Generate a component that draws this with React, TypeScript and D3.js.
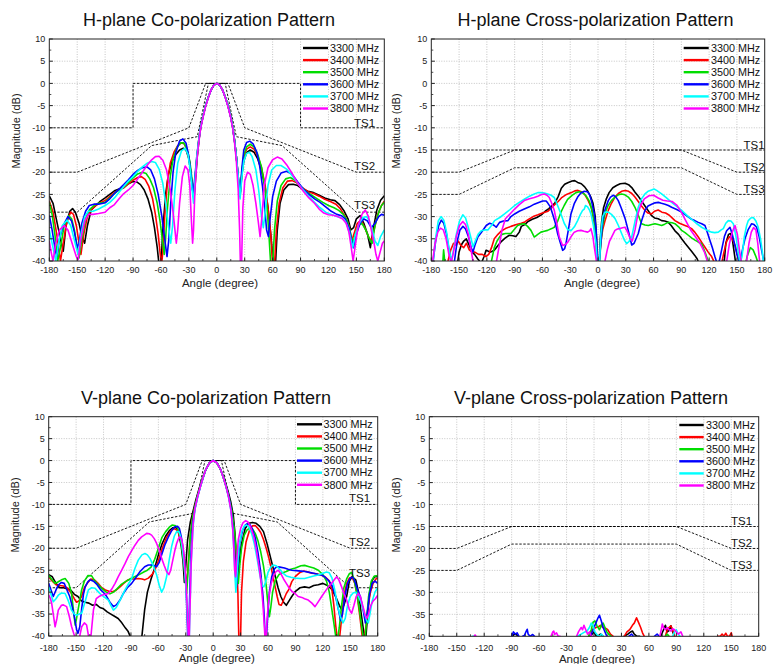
import React from 'react';
import * as d3 from 'd3';

type Pt = [number, number];

const FREQS = ['3300 MHz', '3400 MHz', '3500 MHz', '3600 MHz', '3700 MHz', '3800 MHz'];
const COLORS = ['#000000', '#ff0000', '#00dd00', '#0000ff', '#00ffff', '#ff00ff'];
const X_TICKS = d3.range(-180, 181, 30);
const Y_TICKS = d3.range(-40, 11, 5);

// ---- mask envelopes ----
const CO_TS1: Pt[] = [[-180, -10], [-90, -10], [-90, 0], [90, 0], [90, -10], [180, -10]];
const CO_TS2: Pt[] = [[-180, -20], [-150, -20], [-30, -10], [-12, 0], [12, 0], [30, -10], [150, -20], [180, -20]];
const CO_TS3: Pt[] = [[-180, -29], [-150, -29], [-70, -14], [-21, -12], [-9, 0], [9, 0], [21, -12], [70, -14], [150, -29], [180, -29]];
const X_TS1: Pt[] = [[-180, -15], [180, -15]];
const X_TS2: Pt[] = [[-180, -20], [-150, -20], [-90, -15], [90, -15], [150, -20], [180, -20]];
const X_TS3: Pt[] = [[-180, -25], [-150, -25], [-90, -19], [90, -19], [150, -25], [180, -25]];

// ---- H-plane co-pol ----
const hco3300: Pt[] = [[-180,-25.3],[-176,-27],[-172,-31],[-168,-35],[-165,-37.8],[-162,-32],[-158,-28.8],[-155,-28.2],[-152,-29],[-148,-31.5],[-145,-34.5],[-142,-36],[-139,-32],[-135,-28.5],[-130,-27.5],[-125,-26.5],[-120,-25.8],[-115,-25],[-110,-24.2],[-105,-23.8],[-100,-23.5],[-95,-22.6],[-90,-22.1],[-86,-22.2],[-82,-22.8],[-78,-24],[-74,-26],[-70,-29],[-67,-32.5],[-64,-37],[-62,-41],[-60,-41],[-58,-33],[-55,-25],[-52,-20.5],[-48,-17.5],[-44,-16],[-40,-15],[-36,-14.6],[-33,-15],[-30,-17],[-28,-20],[-26,-24],[-24.5,-26],[-23,-22],[-21,-16.5],[-19,-12.5],[-17,-9.5],[-15,-7.5],[-12,-5],[-9,-3],[-6,-1.4],[-3,-0.35],[0,0],[3,-0.35],[6,-1.4],[9,-3],[12,-5],[15,-7.5],[17,-9.7],[19,-12.7],[21,-16.5],[23,-21.5],[25,-25.5],[27,-20.5],[29,-17.5],[32,-15.6],[36,-15],[40,-15.5],[44,-17],[48,-19.5],[52,-23.5],[55,-28],[58,-34],[61,-41],[63,-41],[65,-33],[68,-27],[72,-24],[77,-22.8],[82,-22.7],[87,-23],[92,-23.8],[98,-24.3],[104,-24.6],[110,-25.2],[116,-25.8],[122,-26.2],[127,-26.4],[132,-27.3],[137,-28.8],[141,-30.5],[144,-33],[147,-32.5],[150,-30.5],[154,-29.8],[158,-31.5],[162,-34],[165,-37],[168,-33],[172,-28.5],[176,-26.3],[180,-25.3]];
const hco3400: Pt[] = [[-180,-26.5],[-176,-29],[-172,-34],[-168,-40],[-165,-36],[-161,-31],[-157,-29],[-154,-29.5],[-151,-32],[-148,-36],[-146,-38.5],[-143,-34],[-139,-30],[-135,-28.5],[-130,-27.5],[-125,-26.8],[-120,-26.4],[-115,-25.5],[-110,-24.6],[-105,-24],[-100,-23.5],[-95,-22.6],[-90,-21.8],[-85,-21.2],[-81,-21],[-77,-21.6],[-73,-23.2],[-69,-26],[-66,-29.5],[-63,-34],[-61,-38],[-59.5,-41],[-58,-38],[-56,-30],[-53,-22],[-50,-18],[-46,-15.5],[-42,-14],[-38,-13.4],[-35,-13.6],[-32,-15],[-29,-18],[-27,-22],[-25,-25.5],[-23.5,-22],[-21.5,-17],[-19.5,-13],[-17.5,-10],[-15,-7.6],[-12,-5],[-9,-3],[-6,-1.4],[-3,-0.35],[0,0],[3,-0.35],[6,-1.4],[9,-3],[12,-5],[15,-7.6],[17,-9.8],[19,-12.8],[21,-16.5],[23,-21],[25,-25],[27,-20],[29,-16.5],[32,-14.8],[36,-14.3],[40,-14.8],[44,-16.3],[48,-19],[52,-23],[55,-28],[58,-34],[60,-41],[62,-41],[64,-33],[67,-27],[71,-23.5],[76,-22],[81,-21.9],[86,-22.4],[92,-23.5],[98,-24.4],[104,-24.8],[110,-25.4],[116,-26.1],[122,-26.6],[128,-27.2],[133,-28.3],[138,-30],[142,-32],[145,-35.5],[148,-33.5],[151,-31.5],[155,-30.8],[159,-32.5],[163,-34.5],[166,-35.5],[169,-33],[173,-29.5],[177,-27.5],[180,-26.5]];
const hco3500: Pt[] = [[-180,-26.8],[-177,-29.5],[-174,-34],[-171,-40],[-168,-37],[-164,-32],[-159,-29.8],[-156,-30.5],[-153,-33],[-150,-37],[-148,-39.3],[-145,-35],[-141,-30.5],[-137,-28.5],[-132,-27.5],[-127,-27],[-120,-26.8],[-115,-25.8],[-110,-24.8],[-105,-24],[-100,-23.3],[-95,-22.3],[-90,-21.3],[-85,-20.4],[-80,-20],[-76,-20.3],[-72,-21.5],[-68,-23.5],[-64,-27],[-61,-31],[-58,-36],[-56.5,-38.5],[-55,-35],[-53,-28],[-50,-21],[-47,-17],[-43,-14.5],[-39,-13.4],[-35.5,-13.4],[-32,-14.8],[-29,-17.5],[-27,-21],[-25,-25],[-23.5,-22],[-21.5,-17],[-19.5,-13],[-17.5,-10],[-15,-7.6],[-12,-5],[-9,-3],[-6,-1.4],[-3,-0.35],[0,0],[3,-0.35],[6,-1.4],[9,-3],[12,-5],[15,-7.6],[17,-9.8],[19,-12.8],[21,-16.5],[23,-21],[25,-25],[27,-20],[29,-16.2],[32,-14.3],[36,-13.7],[40,-14.3],[44,-16],[48,-18.8],[51,-22.5],[54,-28],[56,-34],[58,-41],[60,-41],[62,-33],[65,-26.5],[69,-23],[74,-21.5],[79,-21.2],[84,-21.8],[90,-23.2],[96,-24.4],[102,-25.2],[108,-26],[114,-26.8],[120,-27.5],[126,-28],[131,-28.6],[136,-29.5],[140,-30.8],[143,-33],[146,-36],[149,-34],[152,-32],[156,-31.5],[160,-33],[164,-35],[167,-36],[170,-32],[174,-29],[177,-27.5],[180,-26.8]];
const hco3600: Pt[] = [[-180,-29.7],[-177,-33],[-174,-37],[-172,-39],[-169,-35],[-165,-32],[-160,-30],[-156,-31],[-153,-33.5],[-150,-37],[-148,-36],[-145,-31.5],[-141,-28.8],[-137,-27.5],[-132,-27.2],[-127,-27.2],[-120,-26.9],[-115,-26],[-110,-24.8],[-105,-23.8],[-100,-22.8],[-95,-21.7],[-90,-20.5],[-85,-19.6],[-80,-19],[-75,-18.8],[-71,-19.5],[-67,-21.5],[-63,-25],[-59,-30],[-56,-35],[-53.5,-39],[-51.5,-35],[-49.5,-27],[-47,-20],[-44,-15.5],[-40,-13],[-36.5,-12.5],[-33,-13.5],[-30,-16.5],[-27.5,-21],[-25.5,-25],[-23.5,-21],[-21.5,-16.5],[-19.5,-13],[-17.5,-10],[-15,-7.6],[-12,-5],[-9,-3],[-6,-1.4],[-3,-0.35],[0,0],[3,-0.35],[6,-1.4],[9,-3],[12,-5],[15,-7.6],[17,-9.8],[19,-12.8],[21,-16.5],[23,-21],[25,-25],[27,-19],[29,-15],[32,-13.3],[35.5,-13],[39,-13.6],[43,-15.5],[46,-18.5],[49,-23],[51.5,-28],[53.5,-33],[55.5,-34.5],[57,-31],[60,-25.5],[64,-22],[69,-20.2],[75,-19.8],[81,-20.5],[87,-22.2],[93,-23.8],[99,-25],[105,-26],[111,-26.8],[117,-27.8],[123,-28.8],[129,-29.5],[134,-29.8],[138,-30.5],[142,-32.5],[145,-35.5],[147,-37],[150,-34],[154,-31.5],[158,-30.5],[162,-31],[166,-32.5],[170,-31.5],[174,-30],[177,-29.5],[180,-29.7]];
const hco3700: Pt[] = [[-180,-33],[-178,-35],[-175,-38],[-173,-40],[-170,-36],[-166,-32],[-161,-30.8],[-157,-32],[-154,-34.5],[-151,-37],[-149,-38.5],[-146,-34],[-142,-30],[-138,-28.8],[-133,-28.8],[-127,-28.3],[-120,-27.5],[-115,-26.8],[-110,-25.8],[-105,-24.5],[-100,-23.2],[-95,-22],[-90,-21],[-85,-19.8],[-80,-18.8],[-75,-18],[-70,-17.6],[-66,-17.8],[-62,-19.3],[-58,-22.5],[-55,-27],[-52,-32],[-49.5,-36],[-47.5,-32],[-45,-24],[-42,-18],[-38,-15.2],[-34,-14.6],[-31,-16],[-28.5,-19.5],[-26.5,-24],[-25,-27],[-23.5,-22],[-21.5,-16.5],[-19.5,-13],[-17.5,-10],[-15,-7.6],[-12,-5],[-9,-3],[-6,-1.4],[-3,-0.35],[0,0],[3,-0.35],[6,-1.4],[9,-3],[12,-5],[15,-7.6],[17,-9.8],[19,-12.8],[21,-16.5],[23,-21],[25,-26],[27,-21],[29,-17.5],[32,-15.8],[35,-15.5],[38,-16.5],[42,-19.5],[45,-24],[48,-30],[50,-32.5],[52,-29],[55,-23],[59,-19.5],[64,-18.5],[69,-18.5],[75,-19.3],[81,-20.8],[87,-22.5],[93,-24],[99,-25.5],[105,-26.8],[111,-28],[117,-29],[123,-29.5],[129,-30],[134,-30.3],[138,-31],[141,-32.5],[144,-35],[146,-37],[149,-34],[153,-31.5],[157,-30.2],[161,-30],[164,-31],[167,-33],[170,-35.5],[173,-36.5],[176,-34.5],[180,-33]];
const hco3800: Pt[] = [[-180,-35.5],[-178,-38],[-176,-40],[-173,-36],[-169,-33],[-164,-32],[-160,-33],[-157,-35],[-154,-37],[-151,-39],[-149,-39.7],[-146,-35],[-142,-31],[-138,-29.5],[-133,-29.5],[-127,-29.3],[-120,-29],[-115,-28],[-110,-27.3],[-105,-26],[-100,-24.8],[-95,-24],[-90,-23],[-85,-21.5],[-80,-20],[-75,-18.5],[-70,-17.2],[-66,-16.5],[-62,-16.4],[-58,-17.3],[-54,-19.5],[-50,-24],[-47,-29],[-45,-33],[-43.5,-36],[-42,-33],[-40,-27],[-37,-21],[-34,-18.6],[-31,-19.5],[-29,-23],[-27.5,-30],[-26,-36],[-25,-33],[-23.5,-24],[-21.5,-17.5],[-19.5,-13.5],[-17.5,-10.3],[-15,-7.8],[-12,-5.2],[-9,-3.1],[-6,-1.4],[-3,-0.35],[0,0],[3,-0.35],[6,-1.4],[9,-3.1],[12,-5.2],[15,-7.8],[17,-10],[19,-13.2],[21,-17.5],[23,-24],[24.5,-33],[25.5,-42],[26.5,-42],[28,-28],[30,-22],[33,-20],[36,-20.5],[39,-23],[42,-27],[44.5,-31],[46.5,-34.5],[48.5,-30],[51,-23],[55,-19],[60,-17.2],[65,-16.6],[70,-17],[75,-18.3],[81,-20.3],[87,-22.5],[93,-24.3],[99,-25.8],[105,-27],[110,-28.3],[115,-29.2],[120,-29.6],[125,-29.7],[130,-30],[135,-30.5],[139,-31.5],[142,-33.5],[144.5,-37],[146.5,-40],[148.5,-37],[152,-32],[156,-29.5],[159.5,-28.5],[163,-30],[166,-33],[169,-36],[171,-38.5],[173,-40],[175.5,-38],[178,-36],[180,-35.5]];

// ---- H-plane cross-pol ----
const hx3300: Pt[] = [[-180,-42],[-160,-42],[-152,-41],[-150,-38],[-147.6,-36.4],[-145,-35.5],[-142.2,-35],[-139,-36.5],[-136,-38],[-133.3,-38.5],[-130,-39.5],[-126,-40.5],[-123,-39],[-120.9,-37.6],[-116,-38],[-112,-37.6],[-108,-36.5],[-104.8,-35.7],[-100,-34.8],[-95.8,-34.2],[-92,-34.3],[-88.6,-34.5],[-85,-33.5],[-82.8,-32.2],[-79,-31.8],[-75.6,-31.1],[-71,-30.6],[-66,-30.2],[-61.2,-29.6],[-57,-28.8],[-53,-28.2],[-50,-27.6],[-46.8,-27],[-43,-25.5],[-39.6,-23.6],[-36,-22.7],[-32,-22.3],[-28,-22],[-25.2,-21.9],[-22,-22.3],[-18,-22.6],[-14.4,-23.3],[-11,-24.3],[-8,-25.5],[-5.4,-27],[-3,-30],[-1.5,-35],[-0.5,-41],[1,-41],[2.5,-35],[4,-31],[6,-28],[9,-26],[12,-24.6],[16,-23.5],[20,-23],[24,-22.6],[29.2,-22.5],[33,-22.8],[37,-23.6],[40,-24.5],[43.5,-25.4],[47,-26.5],[50.7,-27.6],[54,-28.6],[57.9,-29.8],[61,-30.3],[65,-30.5],[68.7,-30.9],[72,-31],[75.9,-31.3],[79,-32],[83.1,-33.2],[87,-34],[90.3,-35],[94,-36],[97.5,-36.9],[101,-37.8],[104.7,-38.8],[107,-39.5],[110,-41],[130,-42],[136,-41],[138,-36],[141,-34],[143,-33.8],[145,-35],[147,-38],[149,-41],[180,-42]];
const hx3400: Pt[] = [[-180,-42],[-165,-42],[-162,-40],[-159,-37.5],[-156,-36],[-153,-36.5],[-151,-35.5],[-148,-36.5],[-145,-37],[-142,-36],[-139,-37.5],[-136,-38],[-133,-38],[-129,-38.5],[-125,-38.5],[-121,-39],[-118,-38.5],[-115,-37],[-112,-35],[-108,-34],[-104.8,-33.3],[-100,-32.7],[-94,-32.2],[-88,-31.8],[-82.8,-31.5],[-79,-31.2],[-75.6,-30.7],[-70,-30],[-64.8,-29.6],[-60,-29.2],[-54,-28.8],[-50,-28],[-46.8,-27.3],[-43,-26.6],[-39.6,-25.8],[-34,-25],[-28.8,-24.6],[-25,-24.2],[-21.6,-24.1],[-18,-24.4],[-14.4,-25],[-11,-26.2],[-7.2,-28],[-4.5,-31],[-2.5,-35],[-1,-41],[1,-41],[3,-36],[5,-33],[7.5,-31],[11.1,-28.6],[14.5,-27],[18.3,-25.6],[22,-24.8],[25.5,-24.3],[29.2,-24.1],[33,-24.3],[36.5,-24.8],[39.9,-25.6],[43.5,-26.6],[47,-27.6],[50.7,-28.6],[54,-29.2],[57.9,-29.4],[61,-28.8],[65,-28.5],[69,-29],[73,-29.2],[77,-29.7],[80,-30.3],[83.1,-30.9],[88,-31.5],[93.9,-32],[97.5,-32.3],[101,-32.7],[104.5,-33.5],[108.3,-34.6],[112,-35.8],[115.5,-36.9],[119,-38],[122.7,-39],[126,-40.5],[133,-41],[136,-38],[139,-35.5],[142,-34.5],[145,-35],[148,-36.5],[151,-39],[154,-41],[180,-42]];
const hx3500: Pt[] = [[-180,-42],[-168.5,-42],[-167.5,-40],[-166.7,-37.5],[-165.5,-40],[-164.5,-42],[-118,-42],[-115,-40],[-112,-37],[-109,-35.5],[-106,-34.5],[-103.7,-34],[-100,-33.8],[-94,-33.8],[-90,-32.8],[-86.8,-32],[-83,-31.7],[-79.6,-31.6],[-76,-32.2],[-72.4,-33.1],[-68.8,-34.6],[-65,-34],[-61.6,-33.5],[-58,-33.3],[-54.4,-33.1],[-50,-32.7],[-47.2,-32.4],[-43.5,-31],[-40,-29],[-36.5,-27.5],[-32.8,-26.1],[-28,-25.2],[-23.8,-24.6],[-20,-24.4],[-16.6,-24.6],[-13,-25.3],[-9.4,-26.5],[-6.5,-28.5],[-4,-31],[-2,-35],[-0.5,-41],[1.5,-41],[3,-36],[5,-32],[8,-29],[11,-27.5],[14.5,-26.4],[18.3,-25.6],[22,-25.1],[25.5,-24.9],[29,-25.1],[32.7,-25.6],[36.5,-26.6],[39.9,-27.9],[43.5,-29.7],[47.1,-31.6],[50.7,-31.9],[54.3,-32],[58,-31.8],[61.5,-31.6],[65,-31.8],[68.7,-32],[72,-31.7],[75.9,-31.3],[80,-31.4],[83.1,-31.6],[87,-32.3],[90.3,-33.1],[94,-33.6],[97.5,-34.2],[101,-34.8],[104.7,-35.3],[108,-35.7],[111.9,-36.1],[115.5,-38],[119,-40],[121,-42],[158,-42],[161,-39],[164.5,-37],[167.5,-37.5],[170.5,-39],[173,-40.5],[175,-42],[180,-42]];
const hx3600: Pt[] = [[-180,-42],[-178,-40],[-175,-35],[-172,-32],[-169.2,-30.8],[-166.5,-31.5],[-163.5,-34],[-160.5,-38],[-157,-41],[-155,-40],[-152,-35.5],[-149,-33],[-145.8,-32.2],[-143,-32.8],[-140,-34.5],[-136.9,-37],[-135,-38],[-133,-36.5],[-129.7,-34.6],[-125,-33.3],[-120.7,-32],[-117,-31.5],[-115.3,-31.6],[-112,-32],[-109.9,-32.4],[-106.3,-31.3],[-102,-31],[-97.2,-30.9],[-94,-30],[-90,-29.4],[-85,-28.8],[-79.6,-28.3],[-74,-27.8],[-68.8,-27.2],[-64,-26.8],[-59.8,-26.5],[-56,-26.5],[-54.4,-26.9],[-51.5,-27.8],[-49,-29.4],[-46,-31.5],[-43.6,-33.8],[-40.5,-36],[-38.2,-37.6],[-36,-37.2],[-34.6,-36.1],[-32,-33],[-29.2,-29.4],[-25.5,-27],[-22,-25.6],[-18.5,-24.7],[-14.8,-24.3],[-11.5,-24.4],[-9.4,-24.9],[-7,-26.5],[-4,-29.4],[-2,-33],[-0.4,-41],[1,-41],[3,-36],[5,-31],[7.5,-28.5],[11.1,-26.4],[13.5,-25.6],[16.5,-25.2],[19,-25.5],[21.9,-26.4],[25,-28],[29.2,-30.4],[32.5,-33],[36.4,-36.4],[39,-36],[43.5,-33.8],[47,-31],[50.7,-28.6],[54,-27.6],[57.9,-27.2],[61.5,-26.9],[65.1,-26.8],[68.5,-27],[72.3,-27.2],[76,-27.5],[79.5,-27.9],[85,-28.4],[90.3,-29],[95.5,-29.8],[101,-30.6],[104.5,-30.9],[108.3,-31.3],[112,-31.6],[115.5,-32],[118,-33.5],[120.8,-35.3],[123.5,-37],[126.2,-39],[128.5,-40.5],[131,-40],[134,-37],[136.5,-34.5],[138.9,-33.2],[142.5,-32.4],[145,-34],[147.9,-36.5],[150,-38.5],[152.2,-40],[154.5,-39],[156.5,-37],[158.7,-35],[162,-33],[165.9,-31.6],[168.5,-31.8],[171.3,-32.4],[174,-34.5],[176.7,-37.6],[179,-40],[180,-41]];
const hx3700: Pt[] = [[-180,-42],[-178,-40],[-175.5,-35],[-172.5,-31],[-169.5,-30],[-166.5,-30.8],[-163.5,-33.5],[-161,-37],[-158.5,-40],[-156.5,-38],[-153,-34],[-149.5,-31],[-146,-29.6],[-143,-30.3],[-140,-32.5],[-137,-35],[-135,-36.8],[-132.5,-35.5],[-129.5,-34],[-126.1,-33.2],[-122,-33],[-118.9,-33],[-115,-32],[-111.7,-30.9],[-106,-30.2],[-100.9,-29.4],[-95,-28.4],[-90,-27.5],[-85,-26.8],[-79.6,-26.1],[-74,-25.4],[-68.8,-24.9],[-65,-24.6],[-61.6,-24.6],[-58,-24.7],[-54.4,-24.9],[-50.5,-25.2],[-47.2,-25.7],[-44,-27.3],[-40,-29.4],[-36.5,-31.5],[-32.8,-32.9],[-29.2,-33.2],[-25.5,-32.3],[-22,-30.9],[-19,-29.5],[-16.6,-28.6],[-14.8,-28.3],[-13.5,-27.5],[-11.2,-27.8],[-9,-28.6],[-7.6,-29.4],[-5,-32],[-2.2,-36],[-0.8,-41],[1.5,-41],[3,-34],[5,-30],[7.5,-29],[11.1,-29],[14.5,-29.5],[18.3,-30.4],[22,-32],[25.5,-33.8],[28.5,-35.3],[30.9,-36.1],[33.5,-35.6],[36.4,-34.6],[40,-31],[43.5,-27.9],[47,-26],[50.7,-24.9],[54,-24.3],[57.9,-24],[60.5,-23.8],[63.3,-24.1],[66,-24.5],[68.7,-24.9],[74,-25.8],[79.5,-26.8],[85,-27.7],[90.3,-28.6],[95.5,-29.6],[101,-30.6],[106,-31.5],[111.9,-32.4],[117,-33],[122.7,-33.5],[126,-33.6],[129.9,-33.5],[133,-33],[135.3,-32.7],[138,-31.5],[140.7,-30.9],[143.5,-31],[146.1,-31.6],[149,-34.5],[151.5,-38.3],[153.5,-40.5],[155.5,-39],[158,-34.5],[160.5,-32],[162.3,-30.9],[165,-30.3],[167.7,-30.2],[170.5,-31],[173,-32.4],[175.5,-35],[177.5,-38],[178.5,-40],[180,-42]];
const hx3800: Pt[] = [[-180,-42],[-178.5,-40],[-176,-36],[-173,-33.5],[-170,-32.6],[-167,-33],[-164,-35],[-161,-38.5],[-158.5,-40.5],[-156,-38],[-153,-34.5],[-149.5,-32],[-146,-31.1],[-143,-31.8],[-140,-34],[-137.5,-37],[-135,-40],[-133,-42],[-113,-42],[-110,-40.5],[-107,-37],[-103.7,-33],[-100,-30.5],[-95,-29.4],[-90,-28.3],[-85,-27.3],[-79.6,-26.4],[-74,-26],[-68.8,-25.7],[-65,-25.4],[-61.6,-25.1],[-58,-24.9],[-55,-25.2],[-52.6,-25.7],[-50,-27],[-47.2,-28.6],[-44.5,-31.5],[-41.8,-34.6],[-38.2,-36.5],[-35.5,-36.3],[-32.8,-35.8],[-29,-34.5],[-25.6,-33.5],[-22,-33.2],[-18.4,-33.1],[-15,-33.3],[-11.2,-33.5],[-9,-33.2],[-7.6,-32.7],[-5.5,-34.5],[-4,-36.9],[-2,-39.5],[-0.5,-42],[5,-42],[7.5,-40],[10,-37.5],[12.5,-35.5],[14.7,-34.6],[18.3,-33.1],[21,-32.8],[23.7,-32.7],[26.5,-32.5],[29.2,-32.4],[32,-33.5],[34.5,-34.8],[37,-35.5],[40,-33],[43,-29.5],[46,-27.5],[50,-26],[55,-25.3],[60,-25.2],[65,-25.8],[70,-26.3],[75,-26.5],[80,-26.6],[85,-27.4],[90,-29],[95,-31],[100,-33],[105,-34.5],[110,-36],[115,-38],[118,-40],[120,-42],[136,-42],[139,-40],[142,-36],[145,-33.5],[147.9,-32],[150.5,-34],[153,-38],[155,-40.5],[158,-42],[160.5,-40],[163,-36],[165.5,-33.5],[168,-32.5],[170.5,-33],[172.5,-36],[174.5,-40],[176,-42],[180,-42]];

// ---- V-plane co-pol ----
const vco3300: Pt[] = [[-180,-26],[-176,-26.5],[-172,-28],[-168,-29],[-164,-29],[-160,-29.2],[-156,-29.5],[-152,-30.5],[-148,-31],[-144,-32],[-140,-32.3],[-136,-32.5],[-132,-33],[-128,-32.8],[-124,-33.5],[-120,-33.8],[-116,-34.5],[-112,-35],[-108,-35.5],[-104,-36],[-100,-37],[-96,-38.2],[-93,-39],[-90,-40.5],[-84,-42],[-80,-42],[-78,-40],[-75,-34],[-72,-30],[-68,-27],[-64,-24.5],[-60,-21.5],[-56,-19],[-52,-17.2],[-48,-16],[-44,-15.3],[-41,-15.2],[-38,-16.2],[-35,-19.5],[-33,-23],[-31.5,-27.8],[-30,-24],[-28,-18],[-25,-14],[-22,-11.5],[-19,-9],[-16,-6.8],[-13,-4.8],[-10,-3],[-7,-1.6],[-4,-0.5],[0,0],[4,-0.5],[7,-1.6],[10,-3],[13,-4.8],[16,-6.8],[19,-9.2],[22,-12.5],[24,-17],[25.5,-24],[26.5,-27.8],[28,-24],[31,-19],[35,-15.5],[39,-14.3],[43,-14.1],[47,-14.3],[51,-15],[55,-16.2],[59,-19],[62,-21.5],[65,-24],[68,-26.5],[71,-29],[74,-31],[77,-32.3],[80,-33],[83,-32],[86,-31],[90,-29.8],[95,-29],[100,-28.8],[105,-29],[110,-28.5],[115,-28.3],[120,-28],[125,-28.5],[130,-29.4],[134,-31],[138,-33],[140.5,-34],[143,-33],[146,-31],[149,-27.5],[152,-26.5],[156,-27.2],[159,-30],[162,-35],[165,-39.5],[167,-40.5],[169,-35],[171.5,-29.5],[174,-27.3],[177,-26.4],[180,-26.5]];
const vco3400: Pt[] = [[-180,-26.5],[-176,-27.5],[-172,-28.3],[-168,-28.5],[-164,-28.6],[-160,-29],[-156,-30],[-152,-31.5],[-149.5,-32.3],[-147,-32],[-144,-31],[-141,-29],[-138,-28],[-134,-27],[-130,-27.2],[-126,-28],[-122,-29],[-118,-29.5],[-114,-29.8],[-110,-29.9],[-106,-29.5],[-102,-28.8],[-98,-28],[-94,-27.3],[-90,-27],[-86,-27],[-82,-26.9],[-78,-27],[-75,-27.2],[-71,-26.8],[-67,-26],[-64,-25],[-61,-23.5],[-58,-21.5],[-55,-19.6],[-51,-17.5],[-47,-16.2],[-43,-15.5],[-40,-15.8],[-38,-16.5],[-35,-18.5],[-32,-22.5],[-30,-27],[-29,-28.5],[-27.5,-24],[-25,-17],[-22.5,-13],[-20,-10.5],[-17,-8],[-14,-5.8],[-11,-3.8],[-8,-2],[-4,-0.5],[0,0],[4,-0.5],[8,-2],[11,-3.8],[14,-5.8],[17,-8.2],[20,-11.5],[23,-16],[25.5,-22],[27,-30],[28,-40],[29,-42],[30,-40],[31,-30],[33,-23],[36,-18.5],[40,-15.7],[43,-14.9],[46,-14.8],[49,-15.5],[52,-16.4],[55,-18],[58,-20],[61,-22.3],[64,-25],[67,-28],[70,-31],[72,-32.8],[74.5,-33],[77,-31.8],[80,-30.3],[83,-29.3],[86,-27.6],[90,-26.4],[95,-25.5],[99,-25.2],[104,-25.4],[108,-25.7],[113,-25.8],[118,-26.1],[123,-26.6],[127,-27.4],[130,-29.5],[132,-33],[134,-37.5],[136,-41],[138,-41],[140.5,-36],[143,-31],[146,-28],[149,-26.8],[152,-26.6],[155,-28],[158,-31.5],[160.5,-35.6],[163,-40],[165,-41],[167,-38],[169.5,-33.3],[172,-30],[175,-28],[178,-27],[180,-26.8]];
const vco3500: Pt[] = [[-180,-26.2],[-177,-27],[-173,-28],[-170,-27.7],[-166,-27.2],[-162,-26.9],[-158,-28],[-155,-30.3],[-153,-34],[-151,-37.5],[-149.5,-36],[-147,-33],[-144,-29.5],[-141,-27.5],[-137,-26.2],[-133,-26.3],[-129,-27.6],[-125,-28.5],[-121,-29.3],[-117,-30],[-113,-30.4],[-109,-30],[-105,-29.2],[-101,-28.3],[-96,-27.6],[-91,-27],[-86,-26.5],[-81,-26],[-76,-25.4],[-72,-25],[-68,-24.3],[-64,-22.5],[-60,-20],[-56,-17.5],[-52,-16.2],[-48,-15.2],[-45,-14.7],[-42,-14.8],[-39.5,-15.2],[-37,-16.5],[-34.5,-19.5],[-32.5,-22.7],[-30.5,-27],[-29,-30.3],[-27.5,-25],[-25,-17],[-22.5,-13],[-20,-10.5],[-17,-8],[-14,-5.8],[-11,-3.8],[-8,-2],[-4,-0.5],[0,0],[4,-0.5],[8,-2],[11,-3.8],[14,-5.8],[17,-8.2],[20,-11],[23,-15.5],[25,-20],[26.5,-25],[27.5,-28],[29,-24],[31,-20],[34,-17],[37,-15.8],[40,-15.4],[43,-15.6],[46,-16.6],[49,-18.3],[52,-20.8],[55,-24],[58,-28.5],[60,-33],[61.5,-35.6],[63,-33.5],[65,-30],[68,-27.3],[72,-26],[76,-25.6],[80,-25.3],[85,-24.8],[90,-24.5],[96,-24],[100,-23.9],[105,-24.2],[110,-24.5],[115,-25],[120,-26],[124,-27.5],[127,-30],[129.5,-33.5],[132,-37],[134,-40],[136,-41],[138,-38],[140.5,-33],[143,-29],[146,-27],[149,-25.8],[151.5,-25.5],[154,-27],[157,-30],[160,-34],[162.5,-38],[164.3,-40.5],[166,-41],[168,-36],[170,-31],[173,-27.5],[176,-26.4],[180,-26.2]];
const vco3600: Pt[] = [[-180,-28],[-177.5,-29.5],[-175,-31],[-172,-29.5],[-169.5,-28.4],[-166,-27.8],[-163,-28],[-160,-29.5],[-157,-31],[-155,-32.6],[-152,-35.5],[-149.5,-38.5],[-148,-39.4],[-146,-37.9],[-144,-34],[-142,-30.5],[-140,-28.8],[-137,-27.6],[-134.8,-27.2],[-131,-27.5],[-127,-28.3],[-123,-29.5],[-119,-30.3],[-116.5,-31],[-113,-32.3],[-109.2,-33.3],[-106,-32.9],[-102,-31.8],[-98.3,-30.3],[-94,-29],[-89.2,-28],[-84,-26.5],[-80,-25.3],[-75,-24.2],[-71,-23.8],[-67,-23.8],[-64,-24],[-62,-24.2],[-59,-23.2],[-56.4,-21.5],[-53,-19.3],[-49,-17.4],[-45,-15.8],[-41.8,-15.1],[-39,-15],[-37,-15.5],[-35,-17.3],[-32.7,-20.4],[-31,-24],[-29.5,-30],[-28.5,-36],[-27.8,-40.5],[-27,-40.5],[-26,-33],[-24.5,-22],[-22.5,-14.5],[-20,-11],[-17,-8.2],[-14,-5.9],[-11,-3.9],[-8,-2],[-4,-0.5],[0,0],[4,-0.5],[8,-2],[11,-3.8],[14,-5.8],[17,-8.2],[19.5,-11],[21.5,-15],[23,-20],[24.5,-26],[25.5,-28.8],[27,-24],[29,-19],[32,-16],[35,-14.7],[37.7,-14.3],[40.5,-14.7],[43,-15.7],[46,-17.6],[49,-21],[52,-25.5],[54.5,-31],[56,-36],[57,-41],[58,-41],[59.5,-36],[61.5,-30],[64,-26.5],[67,-24.7],[69.4,-24.2],[73,-24.3],[78,-24.5],[82,-24.8],[86,-25],[91,-25.1],[96,-25.2],[100.4,-25.3],[105,-25.5],[110,-25.7],[115,-26],[118.7,-26.1],[122,-26.5],[126,-27.3],[130,-28.5],[134,-31],[137,-34],[139.5,-36.5],[141.5,-35],[144,-31],[147,-28],[150,-26.8],[152.5,-26.5],[155,-27.5],[158,-29.5],[161,-31],[164,-34],[166.5,-37],[168.5,-35],[171,-30.5],[174,-28],[177,-27.5],[180,-28]];
const vco3700: Pt[] = [[-180,-28.8],[-177.5,-30.5],[-175,-32.2],[-172,-31.5],[-169.5,-30.7],[-166,-30.2],[-162,-30.3],[-158.5,-32],[-155,-34.1],[-152,-35],[-149.5,-35.3],[-146.5,-35],[-143.9,-34.8],[-140,-32],[-136.6,-29.5],[-133,-29],[-129.3,-29.1],[-125.5,-30],[-122,-30.7],[-118,-31.3],[-114.7,-31.8],[-112,-33],[-109.2,-34.1],[-106,-33.5],[-103.8,-32.6],[-100,-31],[-96.5,-29.5],[-93,-28.2],[-89.2,-26.9],[-85.5,-24.5],[-82,-22.7],[-78,-21.5],[-74.7,-21.2],[-72,-21.5],[-69.2,-22.3],[-65.5,-24],[-61.9,-26.1],[-59,-28.5],[-56.4,-30],[-54,-29],[-51,-26.5],[-48,-22.5],[-45.5,-19.6],[-42.5,-17.2],[-40,-16.2],[-37.5,-16.2],[-35.5,-17.5],[-33.5,-20.5],[-31.5,-24.5],[-29.5,-30],[-28,-36],[-27,-40.5],[-26.2,-40.5],[-25.3,-33],[-24,-23],[-22,-15],[-20,-11.2],[-17,-8.3],[-14,-6],[-11,-3.9],[-8,-2],[-4,-0.5],[0,0],[4,-0.5],[8,-2],[11,-3.8],[14,-5.9],[17,-8.6],[19.5,-11.5],[21.5,-16],[23,-22],[24,-27],[24.8,-30],[26,-26],[28,-20],[31,-16.3],[34,-14.9],[36.5,-14.7],[39,-15.2],[42,-16.6],[45,-19],[48,-22.3],[51,-26],[53.5,-28.5],[55.5,-28.8],[57.5,-27.5],[60,-25.5],[63,-24.3],[65.8,-23.8],[69,-24],[72,-24.6],[76,-25.6],[80,-26.3],[85,-26.6],[90,-26.8],[95,-26.9],[100,-26.9],[105,-26.6],[110,-26.3],[115,-26.1],[120,-25.7],[124,-25.4],[127,-25.6],[130,-26.8],[133,-29.5],[136,-33],[139,-35.5],[142,-37],[144.5,-36],[147,-33],[150,-31],[153,-30.2],[156,-30],[159,-31],[162,-32.5],[165,-34.5],[168,-36.5],[169.7,-37],[171.5,-35],[174,-32],[177,-30],[180,-29]];
const vco3800: Pt[] = [[-180,-30.7],[-178,-31.5],[-176.7,-32.6],[-175,-35],[-173,-37.9],[-171,-36],[-169.5,-34.1],[-166,-33],[-164,-32.9],[-160.4,-33.3],[-157.5,-35.5],[-154.9,-37.9],[-152.5,-39.5],[-150,-41],[-147,-41],[-145,-39],[-143.9,-37.9],[-141,-37],[-138.5,-37.5],[-136,-40.5],[-134,-40.5],[-131,-34],[-128,-31.5],[-125,-31],[-122,-30.7],[-118,-30.5],[-114.7,-30.3],[-111,-29.3],[-107.4,-28],[-104,-26.5],[-100.1,-25],[-96.5,-23.5],[-92.9,-21.9],[-89,-20.5],[-85.6,-19.3],[-82,-18.2],[-78.3,-17.4],[-75.5,-17],[-72.8,-16.6],[-70,-16.7],[-67.4,-17],[-64.5,-17.8],[-61.9,-18.9],[-59,-20.5],[-56.4,-22.3],[-53.5,-24],[-51,-25.3],[-48.5,-26],[-46.5,-25],[-44.5,-23],[-42,-20.5],[-40,-18.9],[-38,-17.8],[-36.3,-17.4],[-34.5,-18],[-33,-19.5],[-31.6,-22.7],[-30,-27],[-28.5,-33],[-27.2,-40.5],[-26.2,-40.5],[-25.3,-33],[-24,-23],[-22,-14.5],[-20,-11],[-17,-8.2],[-14,-5.9],[-11,-3.8],[-8,-2],[-4,-0.5],[0,0],[4,-0.5],[8,-2],[11,-3.8],[14,-5.9],[17,-8.5],[19.5,-11.5],[21.5,-16],[22.5,-20],[23.5,-25],[24.5,-26.5],[25.5,-23],[27.5,-18],[30,-15.5],[32.5,-14.2],[35.5,-13.7],[38,-14],[41,-15.2],[44,-17],[47,-20],[50,-24],[52.5,-28],[54.5,-33],[56,-38],[56.8,-41],[57.8,-41],[59,-36],[61,-31],[63.5,-28],[66,-26.3],[68.5,-25.4],[71.3,-25],[74,-25.8],[77,-27],[80,-28],[83,-29],[86,-29.8],[89.5,-30.3],[93,-31],[97,-31.2],[100,-31.5],[104,-31.8],[108,-32.5],[111.4,-33.3],[114,-32.5],[118.7,-31],[122,-30],[126,-28.8],[129.6,-28],[132,-27.3],[135.1,-26.5],[137.5,-27.2],[140.5,-28.8],[143,-30.3],[146,-31.8],[149,-34],[151.5,-34.8],[154,-33],[156.5,-31],[158.8,-30.3],[161,-31],[163.5,-33],[166,-35],[168,-36],[170,-35],[172.5,-33],[175,-32],[177.5,-31.5],[180,-30.7]];

// ---- V-plane cross-pol (mostly below -40 dB) ----
const vx3300: Pt[] = [[-180,-42],[-92,-42],[-89,-40],[-87,-39.5],[-85,-39.6],[-83,-40],[-80,-42],[-10,-42],[-5,-40],[-2,-39.5],[0,-39],[2,-39.8],[4,-40],[7,-39.5],[10,-40],[14,-42],[30,-42],[33,-40],[37,-39.5],[40,-39],[42,-38.8],[44,-39.5],[47,-40],[50,-40],[53,-42],[70,-42],[73,-40],[76,-38.5],[78,-37.5],[80,-39],[82,-38.7],[84,-37.6],[86,-39],[88,-40],[91,-42],[180,-42]];
const vx3400: Pt[] = [[-180,-42],[-10,-42],[-6,-40],[-2,-38.5],[2,-38],[5,-37.8],[7,-37.5],[10,-38],[13,-38.2],[15,-38.5],[18,-39.5],[21,-40],[24,-42],[31,-42],[33,-40],[36,-39],[39,-38.5],[42,-37.5],[44,-37],[46.5,-35.8],[49,-37],[51,-38],[53,-39.2],[55,-40],[57,-42],[75,-42],[78,-40],[80,-38.5],[82,-38],[84,-37.6],[86,-38.5],[88,-40],[91,-42],[133,-42],[135,-40],[138,-40],[140,-39.5],[142,-40],[144,-39.3],[146,-40],[148,-40],[150,-39.2],[151,-40],[152,-42],[180,-42]];
const vx3500: Pt[] = [[-180,-42],[-10,-42],[-6,-40],[-3,-38.5],[-1,-36.8],[1,-36.5],[3,-37.5],[6,-38.5],[8,-37.5],[10,-37],[12,-38],[14,-39],[16,-39.5],[19,-40],[22,-42],[75,-42],[78,-40],[80,-39.5],[82,-40],[84,-42],[180,-42]];
const vx3600: Pt[] = [[-180,-42],[-92,-42],[-90,-40],[-88,-39],[-86,-39.5],[-84,-39.2],[-82,-40],[-80,-42],[-78,-40],[-76,-39.8],[-74,-38.8],[-73,-38.4],[-72,-39.5],[-70,-40],[-67,-39.6],[-65,-40],[-63,-42],[-8,-42],[-4,-40],[-1,-38.5],[2,-37],[4,-36],[6,-35.2],[8,-36.5],[10,-38],[12,-39],[14,-40],[16,-42],[36,-42],[38,-40],[41,-39.5],[43,-40],[45,-42],[64,-42],[66,-40],[69,-39.5],[71,-40],[73,-42],[180,-42]];
const vx3700: Pt[] = [[-180,-42],[-134,-42],[-133,-40],[-131,-40],[-130,-42],[-20,-42],[-18,-40],[-14,-39.5],[-10,-39],[-7.6,-38.8],[-5,-38],[-3,-37],[-1,-37.5],[1,-39],[4,-39.8],[6,-40],[8,-39.5],[10,-40],[12,-42],[84,-42],[86,-40],[88,-39],[90,-38.5],[92,-39.5],[94,-40],[96,-42],[180,-42]];
const vx3800: Pt[] = [[-180,-42],[-132,-42],[-131,-40],[-130,-39.7],[-129,-40],[-128,-42],[-48,-42],[-47,-40],[-45,-39],[-44,-38.8],[-43,-39.6],[-41,-39.2],[-39,-40],[-37,-40],[-35,-42],[-20,-42],[-19,-40],[-17,-39],[-15,-38.3],[-14,-38],[-12.5,-38.5],[-11,-37.5],[-9,-38.5],[-7,-39.5],[-5,-39],[-3,-40],[-1,-40],[1,-42],[70,-42],[72,-40],[74,-38],[74.6,-37.2],[76,-38],[78,-38.5],[80,-38],[82,-38.5],[84,-38.8],[86,-38.3],[88,-38.5],[90,-39],[92,-39.5],[95,-39],[97,-40],[99,-42],[180,-42]];

const FONT = 'Liberation Sans, Arial, Helvetica, sans-serif';

interface PanelCfg {
  id: string; title: string; tx: number; ty: number;
  x0: number; x1: number; y0: number; y1: number;
  series: Pt[][]; masks: Pt[][];
  ts: { t: string; x: number; y: number }[];
  leg: { l0: number; l1: number; tx: number; y: number };
  xlabY: number; xtitle: { x: number; y: number }; ytitle: { x: number; y: number };
}

const PANELS: PanelCfg[] = [
  {
    id: 'p1', title: 'H-plane Co-polarization Pattern', tx: 209, ty: 26,
    x0: 49.3, x1: 384.3, y0: 39, y1: 261,
    series: [hco3300, hco3400, hco3500, hco3600, hco3700, hco3800],
    masks: [CO_TS1, CO_TS2, CO_TS3],
    ts: [{ t: 'TS1', x: 354, y: 126.5 }, { t: 'TS2', x: 354, y: 170 }, { t: 'TS3', x: 354, y: 208.5 }],
    leg: { l0: 303, l1: 328, tx: 330, y: 48 },
    xlabY: 273, xtitle: { x: 220, y: 286.5 }, ytitle: { x: 16, y: 131 },
  },
  {
    id: 'p2', title: 'H-plane Cross-polarization Pattern', tx: 595.5, ty: 26,
    x0: 431.3, x1: 764.7, y0: 39, y1: 261,
    series: [hx3300, hx3400, hx3500, hx3600, hx3700, hx3800],
    masks: [X_TS1, X_TS2, X_TS3],
    ts: [{ t: 'TS1', x: 743.5, y: 148.5 }, { t: 'TS2', x: 743.5, y: 170.5 }, { t: 'TS3', x: 743.5, y: 193 }],
    leg: { l0: 683.7, l1: 708.7, tx: 711, y: 48 },
    xlabY: 273, xtitle: { x: 602, y: 286.5 }, ytitle: { x: 396, y: 131 },
  },
  {
    id: 'p3', title: 'V-plane Co-polarization Pattern', tx: 206, ty: 403.5,
    x0: 48.7, x1: 377.7, y0: 416.7, y1: 636,
    series: [vco3300, vco3400, vco3500, vco3600, vco3700, vco3800],
    masks: [CO_TS1, CO_TS2, CO_TS3],
    ts: [{ t: 'TS1', x: 349, y: 502 }, { t: 'TS2', x: 349, y: 546 }, { t: 'TS3', x: 349, y: 577 }],
    leg: { l0: 297, l1: 322, tx: 323.5, y: 424.3 },
    xlabY: 651, xtitle: { x: 216.7, y: 661.5 }, ytitle: { x: 15, y: 515 },
  },
  {
    id: 'p4', title: 'V-plane Cross-polarization Pattern', tx: 591, ty: 403.5,
    x0: 429.3, x1: 758.7, y0: 416.7, y1: 636.3,
    series: [vx3300, vx3400, vx3500, vx3600, vx3700, vx3800],
    masks: [X_TS1, X_TS2, X_TS3],
    ts: [{ t: 'TS1', x: 731, y: 525 }, { t: 'TS2', x: 731, y: 547 }, { t: 'TS3', x: 731, y: 568.5 }],
    leg: { l0: 679.3, l1: 703.7, tx: 706, y: 425 },
    xlabY: 651, xtitle: { x: 597, y: 662.5 }, ytitle: { x: 396, y: 515 },
  },
];

function Panel({ cfg }: { cfg: PanelCfg }) {
  const xs = d3.scaleLinear().domain([-180, 180]).range([cfg.x0, cfg.x1]);
  const ys = d3.scaleLinear().domain([-40, 10]).range([cfg.y1, cfg.y0]);
  const line = d3.line<Pt>().x((d) => xs(d[0])).y((d) => ys(d[1]));
  const xMinor = d3.range(-165, 180, 30);
  const yMinor = d3.range(-37.5, 10, 5);
  return (
    <g>
      <defs>
        <clipPath id={`clip-${cfg.id}`}>
          <rect x={cfg.x0} y={cfg.y0} width={cfg.x1 - cfg.x0} height={cfg.y1 - cfg.y0} />
        </clipPath>
      </defs>
      <text x={cfg.tx} y={cfg.ty} fontSize={18} textAnchor="middle" fontFamily={FONT} fill="#111">{cfg.title}</text>
      {/* grid */}
      {X_TICKS.slice(1, -1).map((t) => (
        <line key={`gx${t}`} x1={xs(t)} x2={xs(t)} y1={cfg.y0} y2={cfg.y1} stroke="#b8b8b8" strokeWidth={0.8} strokeDasharray="1,1.5" />
      ))}
      {Y_TICKS.slice(1, -1).map((t) => (
        <line key={`gy${t}`} x1={cfg.x0} x2={cfg.x1} y1={ys(t)} y2={ys(t)} stroke="#b8b8b8" strokeWidth={0.8} strokeDasharray="1,1.5" />
      ))}
      {/* masks */}
      <g clipPath={`url(#clip-${cfg.id})`}>
        {cfg.masks.map((m, i) => (
          <path key={`m${i}`} d={line(m) || ''} fill="none" stroke="#000" strokeWidth={0.9} strokeDasharray="2.4,1.6" />
        ))}
        {cfg.series.map((s, i) => (
          <path key={`s${i}`} d={line(s) || ''} fill="none" stroke={COLORS[i]} strokeWidth={1.6} strokeLinejoin="round" />
        ))}
      </g>
      {/* frame */}
      <rect x={cfg.x0} y={cfg.y0} width={cfg.x1 - cfg.x0} height={cfg.y1 - cfg.y0} fill="none" stroke="#222" strokeWidth={1} />
      {/* ticks */}
      {X_TICKS.map((t) => (
        <line key={`tx${t}`} x1={xs(t)} x2={xs(t)} y1={cfg.y1} y2={cfg.y1 - 3.5} stroke="#222" strokeWidth={1} />
      ))}
      {xMinor.map((t) => (
        <line key={`txm${t}`} x1={xs(t)} x2={xs(t)} y1={cfg.y1} y2={cfg.y1 - 2} stroke="#222" strokeWidth={0.8} />
      ))}
      {Y_TICKS.map((t) => (
        <line key={`ty${t}`} x1={cfg.x0} x2={cfg.x0 + 3.5} y1={ys(t)} y2={ys(t)} stroke="#222" strokeWidth={1} />
      ))}
      {yMinor.map((t) => (
        <line key={`tym${t}`} x1={cfg.x0} x2={cfg.x0 + 2} y1={ys(t)} y2={ys(t)} stroke="#222" strokeWidth={0.8} />
      ))}
      {/* tick labels */}
      {X_TICKS.map((t) => (
        <text key={`lx${t}`} x={xs(t)} y={cfg.xlabY} fontSize={9} textAnchor="middle" fontFamily={FONT} fill="#222">{String(t)}</text>
      ))}
      {Y_TICKS.map((t) => (
        <text key={`ly${t}`} x={cfg.x0 - 4} y={ys(t) + 3.2} fontSize={9} textAnchor="end" fontFamily={FONT} fill="#222">{String(t)}</text>
      ))}
      <text x={cfg.xtitle.x} y={cfg.xtitle.y} fontSize={11.5} textAnchor="middle" fontFamily={FONT} fill="#222">Angle (degree)</text>
      <text transform={`translate(${cfg.ytitle.x + 4},${cfg.ytitle.y}) rotate(-90)`} fontSize={11} textAnchor="middle" fontFamily={FONT} fill="#222">Magnitude (dB)</text>
      {/* TS labels */}
      {cfg.ts.map((t) => (
        <text key={t.t} x={t.x} y={t.y} fontSize={11.5} fontFamily={FONT} fill="#111">{t.t}</text>
      ))}
      {/* legend */}
      {FREQS.map((f, i) => {
        const y = cfg.leg.y + i * 12.1;
        return (
          <g key={f}>
            <line x1={cfg.leg.l0} x2={cfg.leg.l1} y1={y} y2={y} stroke={COLORS[i]} strokeWidth={2.4} />
            <text x={cfg.leg.tx} y={y + 3.7} fontSize={10.8} fontFamily={FONT} fill="#111">{f}</text>
          </g>
        );
      })}
    </g>
  );
}

export default function App() {
  return (
    <svg width={784} height={664} viewBox="0 0 784 664" style={{ position: 'absolute', left: 0, top: 0, background: '#fff' }}>
      <rect x={0} y={0} width={784} height={664} fill="#fff" />
      {PANELS.map((p) => (
        <Panel key={p.id} cfg={p} />
      ))}
    </svg>
  );
}
